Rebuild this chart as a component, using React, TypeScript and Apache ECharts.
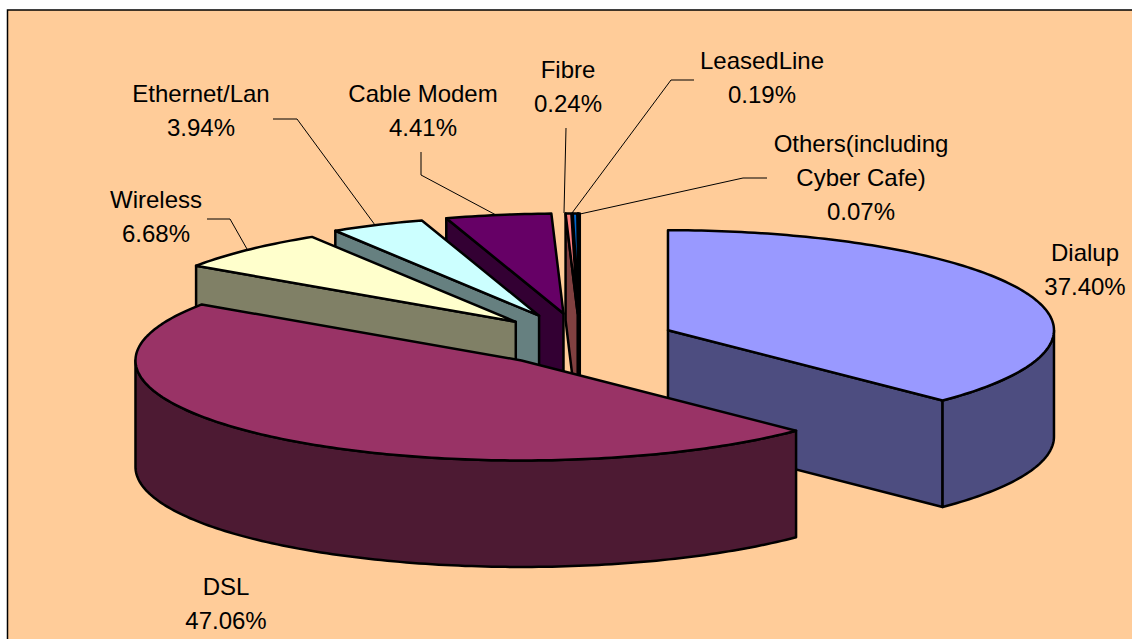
import React, { useEffect, useRef } from "react";
import * as echarts from "echarts";

const categories = ["Dialup", "DSL", "Wireless", "Ethernet/Lan", "Cable Modem", "Fibre", "LeasedLine", "Others(including\nCyber Cafe)"];
const shares = [37.4, 47.06, 6.68, 3.94, 4.41, 0.24, 0.19, 0.07];
const explosions = [0.247, 0.239, 0.24, 0.253, 0.253, 0.25, 0.25, 0.25];
const topColors = ["#9999FF", "#993366", "#FFFFCC", "#CCFFFF", "#660066", "#FF8080", "#0066CC", "#CCCCFF"];
const sideColors = ["#4D4D80", "#4D1A33", "#808066", "#668080", "#330033", "#804040", "#003366", "#666680"];
const drawOrder = [7, 6, 5, 4, 3, 2, 0, 1];

const labelCentres = [
  [1085, 269], [226, 603], [156, 216], [201, 110], [423, 110], [568, 86], [762, 77], [861, 177],
];
const leaders = [
  [[207, 219], [230, 219], [247, 249]],
  [[273, 119], [297, 119], [375, 225]],
  [[421, 152], [421, 175], [496, 215]],
  [[566, 128], [564, 213]],
  [[694, 80], [671, 80], [572, 213]],
  [[767, 178], [743, 178], [580, 214]],
];

const centre = [580, 340.5];
const rx = 386;
const ry = 100;
const explodeRy = 108;
const thickness = 106.5;

const total = shares.reduce((a, b) => a + b, 0);
const rad = (d: number) => (d * Math.PI) / 180;

function sliceAngles(i: number) {
  let start = 0;
  for (let k = 0; k < i; k++) start += (shares[k] / total) * 360;
  return [start, start + (shares[i] / total) * 360];
}

function renderSlice(_params: any, api: any) {
  const i = api.value(0);
  const [a, b] = sliceAngles(i);
  const mid = rad((a + b) / 2);
  const ax = centre[0] + explosions[i] * rx * Math.sin(mid);
  const ay = centre[1] - explosions[i] * explodeRy * Math.cos(mid);
  const rim = (t: number, dy = 0) => [ax + rx * Math.sin(rad(t)), ay - ry * Math.cos(rad(t)) + dy];
  const arc = (from: number, to: number, dy = 0) => {
    const n = Math.max(1, Math.ceil(to - from));
    const pts = [];
    for (let k = 0; k <= n; k++) pts.push(rim(from + ((to - from) * k) / n, dy));
    return pts;
  };
  const style = (fill: string) => ({ fill, stroke: "#000", lineWidth: 2.5, lineJoin: "round" });
  const children: any[] = [];
  const face = (t: number) => ({
    type: "polygon",
    shape: { points: [[ax, ay], rim(t), rim(t, thickness), [ax, ay + thickness]] },
    style: style(sideColors[i]),
  });
  // a cut face is visible only when its outward normal points toward the viewer
  if (-Math.cos(rad(b + 90)) > 0.001) children.push(face(b));
  if (-Math.cos(rad(a - 90)) > 0.001) children.push(face(a));
  const from = Math.max(a, 90);
  const to = Math.min(b, 270);
  if (to > from) {
    children.push({
      type: "polygon",
      shape: { points: [...arc(from, to), ...arc(from, to, thickness).reverse()] },
      style: style(sideColors[i]),
    });
  }
  children.push({
    type: "polygon",
    shape: { points: [[ax, ay], ...arc(a, b)] },
    style: style(topColors[i]),
  });
  return { type: "group", children };
}

export default function App() {
  const ref = useRef<HTMLDivElement>(null);
  useEffect(() => {
    const chart = echarts.init(ref.current!, null, { renderer: "svg" });
    const labels = categories.map((name, i) => ({
      type: "text",
      x: labelCentres[i][0],
      y: labelCentres[i][1],
      z: 10,
      style: {
        text: `${name}\n${shares[i].toFixed(2)}%`,
        fill: "#000",
        font: '24px "Liberation Sans", Arial, sans-serif',
        lineHeight: 34,
        align: "center",
        verticalAlign: "middle",
      },
    }));
    const lines = leaders.map((points) => ({
      type: "polyline",
      z: 1,
      shape: { points },
      style: { stroke: "#000", lineWidth: 1, fill: "none" },
    }));
    chart.setOption({
      animation: false,
      backgroundColor: "#fff",
      graphic: [
        {
          type: "rect",
          z: -1,
          shape: { x: 7.5, y: 10, width: 1140, height: 650 },
          style: { fill: "#FFCC99", stroke: "#000", lineWidth: 1.5 },
        },
        ...lines,
        ...labels,
      ],
      series: [
        {
          type: "custom",
          coordinateSystem: "none",
          silent: true,
          z: 5,
          renderItem: renderSlice,
          data: drawOrder.map((i) => ({ name: categories[i], value: [i, shares[i]] })),
        },
      ],
    });
    return () => chart.dispose();
  }, []);
  return <div ref={ref} style={{ position: "fixed", left: 0, top: 0, width: 1132, height: 639 }} />;
}
